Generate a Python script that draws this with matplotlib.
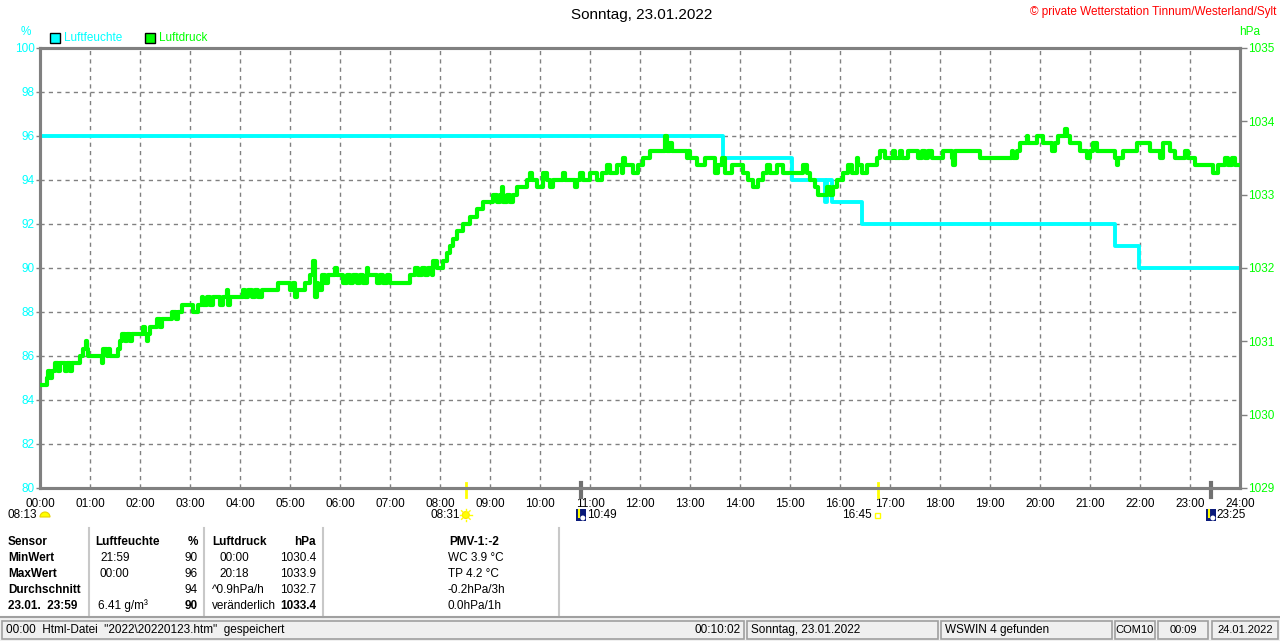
import numpy as np
import matplotlib.pyplot as plt
import matplotlib.transforms as mtransforms
from matplotlib.patches import Rectangle, Wedge, Circle

plt.rcParams['font.family'] = ['Liberation Sans', 'DejaVu Sans']

CYAN = '#00FFFF'
GREEN = '#00FF00'
GRAY = '#808080'

title = 'Sonntag, 23.01.2022'
copyright_text = '\u00a9 private Wetterstation Tinnum/Westerland/Sylt'

# humidity (%), stepwise
hum_times = ['00:00', '13:40', '15:02', '15:42', '15:44', '15:50', '16:26', '21:30', '21:59', '24:00']
hum_values = [96, 95, 94, 93, 94, 93, 92, 91, 90, 90]

# air pressure (hPa)
p_times = [
    '00:00', '00:08', '00:10', '00:12', '00:14', '00:18', '00:22', '00:24', '00:30', '00:32',
    '00:36', '00:38', '00:48', '00:52', '00:55', '00:56', '00:58', '01:14', '01:15', '01:16',
    '01:20', '01:22', '01:24', '01:33', '01:36', '01:38', '01:42', '01:44', '01:48', '01:50',
    '02:04', '02:06', '02:08', '02:10', '02:12', '02:20', '02:24', '02:26', '02:38', '02:43',
    '02:46', '02:50', '03:04', '03:10', '03:14', '03:16', '03:20', '03:24', '03:28', '03:36',
    '03:40', '03:44', '03:46', '03:48', '04:04', '04:06', '04:10', '04:14', '04:18', '04:22',
    '04:26', '04:46', '05:00', '05:04', '05:06', '05:08', '05:18', '05:24', '05:28', '05:30',
    '05:32', '05:34', '05:38', '05:42', '05:46', '05:54', '05:56', '06:04', '06:08', '06:12',
    '06:16', '06:20', '06:24', '06:28', '06:32', '06:34', '06:44', '06:48', '06:52', '06:56',
    '07:00', '07:24', '07:30', '07:34', '07:38', '07:42', '07:46', '07:50', '07:52', '07:56',
    '08:04', '08:08', '08:12', '08:16', '08:20', '08:28', '08:36', '08:44', '08:52', '09:04',
    '09:08', '09:12', '09:14', '09:16', '09:20', '09:24', '09:28', '09:32', '09:44', '09:48',
    '09:50', '09:56', '10:04', '10:08', '10:12', '10:16', '10:28', '10:30', '10:42', '10:44',
    '10:48', '10:52', '11:00', '11:08', '11:14', '11:20', '11:24', '11:32', '11:38', '11:40',
    '11:42', '11:52', '11:58', '12:04', '12:12', '12:30', '12:32', '12:36', '12:38', '12:56',
    '12:58', '13:00', '13:08', '13:18', '13:30', '13:34', '13:38', '13:42', '13:50', '14:04',
    '14:10', '14:16', '14:22', '14:28', '14:32', '14:36', '14:44', '14:52', '15:16', '15:20',
    '15:24', '15:30', '15:34', '15:44', '15:48', '15:52', '15:56', '16:04', '16:10', '16:14',
    '16:20', '16:22', '16:26', '16:32', '16:44', '16:48', '16:54', '17:04', '17:06', '17:12',
    '17:14', '17:22', '17:34', '17:38', '17:42', '17:46', '17:50', '18:04', '18:14', '18:16',
    '18:18', '18:48', '19:26', '19:28', '19:32', '19:36', '19:44', '19:46', '19:56', '20:04',
    '20:14', '20:18', '20:22', '20:30', '20:32', '20:36', '20:48', '20:56', '21:00', '21:04',
    '21:08', '21:30', '21:32', '21:34', '21:40', '21:56', '22:12', '22:24', '22:28', '22:36',
    '22:42', '22:54', '22:58', '23:06', '23:28', '23:34', '23:42', '23:46', '23:50', '23:54',
    '24:00',
]
p_values = [
    1030.4, 1030.5, 1030.6, 1030.5, 1030.6, 1030.7, 1030.6, 1030.7, 1030.6, 1030.7,
    1030.6, 1030.7, 1030.8, 1030.9, 1031.0, 1030.9, 1030.8, 1030.7, 1030.8, 1030.9,
    1030.8, 1030.9, 1030.8, 1030.9, 1031.0, 1031.1, 1031.0, 1031.1, 1031.0, 1031.1,
    1031.2, 1031.1, 1031.0, 1031.1, 1031.2, 1031.3, 1031.2, 1031.3, 1031.4, 1031.3,
    1031.4, 1031.5, 1031.4, 1031.5, 1031.6, 1031.5, 1031.6, 1031.5, 1031.6, 1031.5,
    1031.6, 1031.7, 1031.5, 1031.6, 1031.7, 1031.6, 1031.7, 1031.6, 1031.7, 1031.6,
    1031.7, 1031.8, 1031.7, 1031.8, 1031.6, 1031.7, 1031.8, 1031.9, 1032.1, 1031.6,
    1031.8, 1031.7, 1031.9, 1031.8, 1031.9, 1032.0, 1031.9, 1031.8, 1031.9, 1031.8,
    1031.9, 1031.8, 1031.9, 1031.8, 1032.0, 1031.9, 1031.8, 1031.9, 1031.8, 1031.9,
    1031.8, 1031.9, 1032.0, 1031.9, 1032.0, 1031.9, 1032.0, 1031.9, 1032.1, 1032.0,
    1032.1, 1032.2, 1032.3, 1032.4, 1032.5, 1032.6, 1032.7, 1032.8, 1032.9, 1033.0,
    1032.9, 1033.0, 1033.1, 1032.9, 1033.0, 1032.9, 1033.0, 1033.1, 1033.2, 1033.3,
    1033.2, 1033.1, 1033.3, 1033.2, 1033.1, 1033.2, 1033.3, 1033.2, 1033.1, 1033.2,
    1033.3, 1033.2, 1033.3, 1033.2, 1033.3, 1033.4, 1033.3, 1033.4, 1033.3, 1033.5,
    1033.4, 1033.3, 1033.4, 1033.5, 1033.6, 1033.8, 1033.6, 1033.7, 1033.6, 1033.5,
    1033.6, 1033.5, 1033.4, 1033.5, 1033.3, 1033.4, 1033.5, 1033.3, 1033.4, 1033.3,
    1033.2, 1033.1, 1033.2, 1033.3, 1033.4, 1033.3, 1033.4, 1033.3, 1033.4, 1033.3,
    1033.2, 1033.1, 1033.0, 1033.1, 1033.0, 1033.1, 1033.2, 1033.3, 1033.4, 1033.3,
    1033.5, 1033.4, 1033.3, 1033.4, 1033.5, 1033.6, 1033.5, 1033.6, 1033.5, 1033.6,
    1033.5, 1033.6, 1033.5, 1033.6, 1033.5, 1033.6, 1033.5, 1033.6, 1033.5, 1033.4,
    1033.6, 1033.5, 1033.6, 1033.5, 1033.6, 1033.7, 1033.8, 1033.7, 1033.8, 1033.7,
    1033.6, 1033.7, 1033.8, 1033.9, 1033.8, 1033.7, 1033.6, 1033.5, 1033.6, 1033.7,
    1033.6, 1033.5, 1033.4, 1033.5, 1033.6, 1033.7, 1033.6, 1033.5, 1033.7, 1033.6,
    1033.5, 1033.6, 1033.5, 1033.4, 1033.3, 1033.4, 1033.5, 1033.4, 1033.5, 1033.4,
    1033.4,
]

# sun / moon events
event_times = ['08:31', '10:49', '16:45', '23:25']
event_kinds = ['sunrise', 'moonset', 'sunset', 'moonrise']
dawn_label = '08:13'

hour_labels = ['%02d:00' % h for h in range(25)]

# table below the chart
table_rows = [
    ('Sensor', 'Luftfeuchte', '%', 'Luftdruck', 'hPa', 'PMV-1:-2'),
    ('MinWert', '21:59', '90', '00:00', '1030.4', 'WC 3.9 \u00b0C'),
    ('MaxWert', '00:00', '96', '20:18', '1033.9', 'TP 4.2 \u00b0C'),
    ('Durchschnitt', '', '94', '^0.9hPa/h', '1032.7', '-0.2hPa/3h'),
    ('23.01.  23:59', '6.41 g/m\u00b3', '90', 'ver\u00e4nderlich', '1033.4', '0.0hPa/1h'),
]
status_panels = [
    ('00:00  Html-Datei  "2022\\20220123.htm"  gespeichert', '00:10:02'),
    ('Sonntag, 23.01.2022', ''),
    ('WSWIN 4 gefunden', ''),
    ('COM10', ''),
    ('00:09', ''),
    ('24.01.2022', ''),
]


def to_hours(t):
    h, m = t.split(':')
    return int(h) + int(m) / 60.0


W, H = 1280, 641
FS = 8.5
fig = plt.figure(figsize=(W / 100, H / 100), dpi=100)
ax = fig.add_axes([40 / W, 1 - 488 / H, 1200 / W, 440 / H])
ax2 = ax.twinx()

hx = [to_hours(t) for t in hum_times]
px_ = [to_hours(t) for t in p_times]

ax.plot(hx, hum_values, color=CYAN, lw=2.8, drawstyle='steps-post', zorder=3)
ax2.plot(px_, p_values, color=GREEN, lw=3, drawstyle='steps-post', zorder=3)

ax.set_xlim(0, 24)
ax.set_ylim(80, 100)
ax2.set_ylim(1029, 1035)

for h in range(1, 24):
    ax.axvline(h, color=GRAY, lw=1, ls=(0, (3, 3)), zorder=1)
for v in range(82, 100, 2):
    ax.axhline(v, color=GRAY, lw=1, ls=(0, (3, 3)), zorder=1)

ax.set_xticks(range(25))
ax.set_xticklabels(hour_labels)
ax.tick_params(axis='x', length=0, pad=7, labelsize=FS, colors='black')
ax.set_yticks(range(80, 101, 2))
ax.tick_params(axis='y', length=3, width=1, color=GRAY, labelcolor=CYAN, labelsize=FS, pad=1)
ax2.set_yticks(range(1029, 1036))
ax2.tick_params(axis='y', length=5, width=1, color=GRAY, labelcolor=GREEN, labelsize=FS, pad=1)

for a in (ax, ax2):
    for s in a.spines.values():
        s.set_color(GRAY)
        s.set_linewidth(2.2)

# sun / moon ticks on the time axis
trans = mtransforms.blended_transform_factory(ax.transData, ax.transAxes)
for t, kind in zip(event_times, event_kinds):
    x = to_hours(t)
    col = '#FFFF00' if kind.startswith('sun') else '#707070'
    lw = 2 if kind.startswith('sun') else 3
    ax.plot([x, x], [0.012, -0.02], transform=trans, color=col, lw=lw, clip_on=False, zorder=5)

# overlay in pixel coordinates for texts outside the chart
ov = fig.add_axes([0, 0, 1, 1], zorder=10)
ov.set_xlim(0, W)
ov.set_ylim(H, 0)
ov.axis('off')
ov.patch.set_alpha(0)

ov.text(642, 15, title, ha='center', va='center', fontsize=11)
ov.text(1276, 12, copyright_text, ha='right', va='center', fontsize=FS, color='red')
ov.text(26, 32, '%', ha='center', va='center', fontsize=FS, color=CYAN)
ov.text(1250, 32, 'hPa', ha='center', va='center', fontsize=FS, color=GREEN)

ov.add_patch(Rectangle((50, 33), 10, 10, facecolor=CYAN, edgecolor='black', lw=1))
ov.text(64, 38, 'Luftfeuchte', ha='left', va='center', fontsize=FS, color=CYAN)
ov.add_patch(Rectangle((145, 33), 10, 10, facecolor=GREEN, edgecolor='black', lw=1))
ov.text(159, 38, 'Luftdruck', ha='left', va='center', fontsize=FS, color=GREEN)

# event labels and icons
ev_y = 515
ov.text(37, ev_y, dawn_label, ha='right', va='center', fontsize=FS)
ov.add_patch(Wedge((45, ev_y + 2), 5, 180, 360, facecolor='#FFFF00', edgecolor='#E8D000', lw=0.8))
for t, kind in zip(event_times, event_kinds):
    x = 40 + to_hours(t) * 50
    if kind == 'sunrise':
        ov.text(x - 6, ev_y, t, ha='right', va='center', fontsize=FS)
        ov.add_patch(Circle((x, ev_y), 3.5, facecolor='#FFFF00', edgecolor='#FFE000', lw=0.8))
        for ang in np.linspace(0, 2 * np.pi, 8, endpoint=False):
            ov.plot([x + 4.5 * np.cos(ang), x + 6 * np.cos(ang)],
                    [ev_y + 4.5 * np.sin(ang), ev_y + 6 * np.sin(ang)], color='#FFFF00', lw=1)
    elif kind == 'sunset':
        ov.text(x - 6, ev_y, t, ha='right', va='center', fontsize=FS)
        ov.add_patch(Rectangle((x - 2.5, ev_y - 2), 5, 5, facecolor='white', edgecolor='#FFFF00', lw=1))
    else:
        ov.add_patch(Rectangle((x - 5, ev_y - 6), 10, 12, facecolor='#0A1A7A', edgecolor='none'))
        ov.add_patch(Circle((x + 2, ev_y + 3), 2.5, facecolor='white', edgecolor='none'))
        ov.plot([x - 2, x - 2], [ev_y - 5, ev_y + 2], color='#FFFF00', lw=1.5)
        ov.text(x + 6, ev_y, t, ha='left', va='center', fontsize=FS)

# table
row_y = [542, 558, 574, 590, 606]
for i, (r, y) in enumerate(zip(table_rows, row_y)):
    head = i == 0
    ov.text(8, y, r[0], ha='left', va='center', fontsize=FS, weight='bold')
    ov.text(100 if not head and i != 4 else 95 if head else 98, y, r[1], ha='left', va='center',
            fontsize=FS, weight='bold' if head else 'normal')
    ov.text(198, y, r[2], ha='right', va='center', fontsize=FS,
            weight='bold' if head or i == 4 else 'normal')
    ov.text(212 if (head or i >= 3) else 219, y, r[3], ha='left', va='center', fontsize=FS,
            weight='bold' if head else 'normal')
    ov.text(316, y, r[4], ha='right', va='center', fontsize=FS,
            weight='bold' if head or i == 4 else 'normal')
    if head:
        ov.text(474, y, r[5], ha='center', va='center', fontsize=FS, weight='bold')
    else:
        ov.text(448, y, r[5], ha='left', va='center', fontsize=FS)

for xs in (89, 204, 323, 559):
    ov.plot([xs, xs], [528, 617], color='#C8C8C8', lw=1.5)
ov.plot([0, W], [617, 617], color='#A0A0A0', lw=1.5)

# status bar
ov.add_patch(Rectangle((0, 618), W, 23, facecolor='#F0F0F0', edgecolor='none'))
panel_x = [(2, 744), (747, 938), (941, 1112), (1115, 1155), (1158, 1208), (1212, 1278)]
for (x0, x1), (txt, rtxt) in zip(panel_x, status_panels):
    ov.add_patch(Rectangle((x0, 621), x1 - x0, 18, facecolor='#F0F0F0', edgecolor='#A0A0A0', lw=1.2))
    if txt in ('COM10', '00:09', '24.01.2022'):
        ov.text((x0 + x1) / 2, 630, txt, ha='center', va='center', fontsize=8)
    else:
        ov.text(x0 + 4, 630, txt, ha='left', va='center', fontsize=FS)
    if rtxt:
        ov.text(x1 - 3, 630, rtxt, ha='right', va='center', fontsize=FS)

fig.savefig('out.png', dpi=100)
